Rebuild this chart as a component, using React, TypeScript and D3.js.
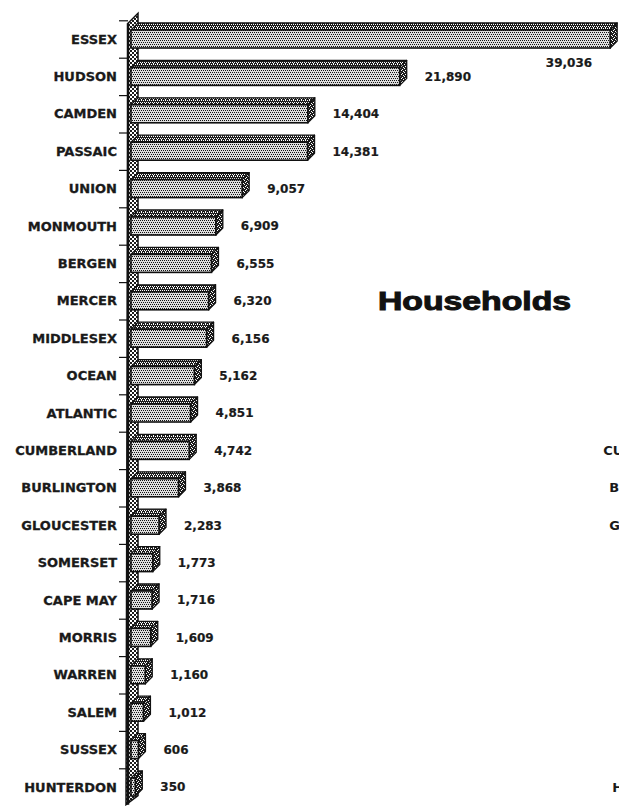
import React from "react";
import * as d3 from "d3";

// NJ counties, households
const counties = [
  "ESSEX", "HUDSON", "CAMDEN", "PASSAIC", "UNION", "MONMOUTH", "BERGEN",
  "MERCER", "MIDDLESEX", "OCEAN", "ATLANTIC", "CUMBERLAND", "BURLINGTON",
  "GLOUCESTER", "SOMERSET", "CAPE MAY", "MORRIS", "WARREN", "SALEM",
  "SUSSEX", "HUNTERDON",
];

const households = [
  39036, 21890, 14404, 14381, 9057, 6909, 6555, 6320, 6156, 5162, 4851,
  4742, 3868, 2283, 1773, 1716, 1609, 1160, 1012, 606, 350,
];

const title = "Households";

// labels of the next chart, cut off at the right edge
const clippedLabels = ["CUMBERLAND", "BURLINGTON", "GLOUCESTER", "HUNTERDON"];

const W = 619;
const H = 806;
const depth = 7;
const faceH = 18;
const labelFont = "'DejaVu Sans', sans-serif";
const ink = "#1a1a1a";

const fmt = d3.format(",");

export default function App() {
  const x = d3.scaleLinear().domain([0, 40000]).range([131, 622]);
  const y = d3.scaleBand().domain(counties).range([20.3, 805.7]);
  const x0 = x(0);
  const top = y.range()[0];
  const bottom = y.range()[1];
  const wallD = 10;

  const wall = [
    [x0 - 3, top + 3],
    [x0 - 3 + wallD, top - 7],
    [x0 - 3 + wallD, bottom - 10],
    [x0 - 5, bottom - 1],
  ];

  return (
    <svg
      width={W}
      height={H}
      style={{ position: "absolute", left: 0, top: 0, background: "#fff" }}
    >
      <defs>
        <pattern id="front" width={4} height={4} patternUnits="userSpaceOnUse">
          <rect width={4} height={4} fill="#dedede" />
          <rect x={0} y={0} width={1} height={1} fill="#111" />
          <rect x={2} y={0} width={1} height={1} fill="#111" />
          <rect x={1} y={2} width={1} height={1} fill="#111" />
          <rect x={3} y={2} width={1} height={1} fill="#111" />
        </pattern>
        <pattern id="topface" width={4} height={4} patternUnits="userSpaceOnUse">
          <rect width={4} height={4} fill="#1c1c1c" />
          <rect x={1} y={0} width={1} height={1} fill="#fff" />
          <rect x={3} y={0} width={1} height={1} fill="#fff" />
          <rect x={0} y={2} width={1} height={1} fill="#fff" />
          <rect x={2} y={2} width={1} height={1} fill="#fff" />
          <rect x={1} y={3} width={1} height={1} fill="#fff" />
        </pattern>
        <pattern id="side" width={4} height={4} patternUnits="userSpaceOnUse">
          <rect width={4} height={4} fill="#1c1c1c" />
          <rect x={0} y={0} width={1} height={1} fill="#fff" />
          <rect x={2} y={1} width={1} height={1} fill="#fff" />
          <rect x={1} y={2} width={1} height={1} fill="#fff" />
          <rect x={3} y={3} width={1} height={1} fill="#fff" />
        </pattern>
        <pattern id="wall" width={4} height={4} patternUnits="userSpaceOnUse">
          <rect width={4} height={4} fill="#fff" />
          <rect x={0} y={0} width={2} height={2} fill="#1c1c1c" />
          <rect x={2} y={2} width={2} height={2} fill="#1c1c1c" />
        </pattern>
      </defs>

      {/* left wall of the 3d frame */}
      <polygon
        points={wall.map((p) => p.join(",")).join(" ")}
        fill="url(#wall)"
        stroke="#111"
        strokeWidth={1.5}
      />
      <line x1={x0 - 3} x2={x0 - 3} y1={top + 3} y2={bottom - 1} stroke="#111" strokeWidth={2.5} />

      {/* tick marks between categories */}
      {counties.map((c) => (
        <line
          key={"t" + c}
          x1={x0 - 12}
          x2={x0 - 3}
          y1={y(c)! + 0.5}
          y2={y(c)! + 0.5}
          stroke="#111"
          strokeWidth={1.2}
        />
      ))}

      {counties.map((c, i) => {
        const v = households[i];
        const cy = y(c)! + y.bandwidth() / 2;
        const fy = cy - faceH / 2;
        const x1 = x(v);
        const topPts = [
          [x0, fy], [x0 + depth, fy - depth], [x1 + depth, fy - depth], [x1, fy],
        ];
        const sidePts = [
          [x1, fy], [x1 + depth, fy - depth], [x1 + depth, fy + faceH - depth], [x1, fy + faceH],
        ];
        const label = fmt(v);
        const lw = label.length * 7.6;
        const fits = x1 + 25 + lw < W;
        return (
          <g key={c}>
            <polygon
              points={topPts.map((p) => p.join(",")).join(" ")}
              fill="url(#topface)"
              stroke="#111"
              strokeWidth={1.3}
              strokeLinejoin="round"
            />
            <polygon
              points={sidePts.map((p) => p.join(",")).join(" ")}
              fill="url(#side)"
              stroke="#111"
              strokeWidth={1.3}
              strokeLinejoin="round"
            />
            <rect
              x={x0}
              y={fy}
              width={x1 - x0}
              height={faceH}
              fill="url(#front)"
              stroke="#111"
              strokeWidth={1.6}
            />
            <text
              x={x0 - 14}
              y={cy}
              dy="0.36em"
              textAnchor="end"
              fontFamily={labelFont}
              fontWeight="bold"
              fontSize={13}
              fill={ink}
              stroke={ink}
              strokeWidth={0.3}
            >
              {c}
            </text>
            <text
              x={fits ? x1 + 25 : x1 - 18}
              y={fits ? cy : cy + 24}
              dy="0.36em"
              textAnchor={fits ? "start" : "end"}
              fontFamily={labelFont}
              fontWeight="bold"
              fontSize={12}
              fill={ink}
              stroke={ink}
              strokeWidth={0.2}
            >
              {label}
            </text>
          </g>
        );
      })}

      <text
        x={378}
        y={310}
        textLength={193}
        lengthAdjust="spacingAndGlyphs"
        fontFamily="'Liberation Sans', Arial, sans-serif"
        fontWeight="bold"
        fontSize={25}
        fill="#111"
        stroke="#111"
        strokeWidth={1}
      >
        {title}
      </text>

      {clippedLabels.map((c) => (
        <text
          key={"n" + c}
          x={705}
          y={y(c)! + y.bandwidth() / 2}
          dy="0.36em"
          textAnchor="end"
          fontFamily={labelFont}
          fontWeight="bold"
          fontSize={13}
          fill={ink}
        >
          {c}
        </text>
      ))}
    </svg>
  );
}
